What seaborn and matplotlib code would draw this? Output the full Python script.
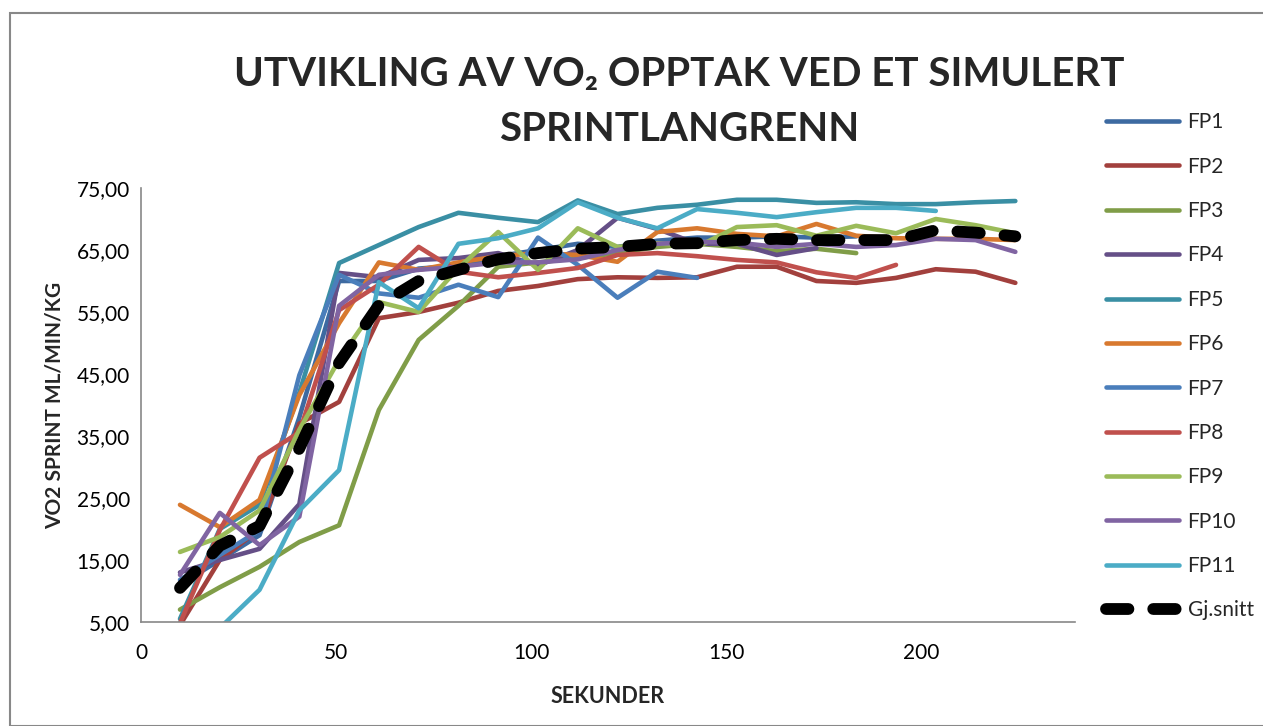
import numpy as np
import pandas as pd
import seaborn as sns
import matplotlib.pyplot as plt
from matplotlib.patches import Rectangle

# tid (sekunder) for hvert målepunkt
seconds = [10.0, 20.2, 30.4, 40.6, 50.8, 61.0, 71.2, 81.4, 91.6, 101.8, 112.0,
           122.2, 132.4, 142.6, 152.8, 163.0, 173.2, 183.4, 193.6, 203.8, 214.0, 224.2]

fp1 = [11.0, 15.0, 19.0, 38.0, 60.0, 60.0, 62.0, 62.5, 64.0, 65.0, 66.0,
       65.5, 66.5, 67.0, 67.0, 67.2, 67.0, 67.2]
fp2 = [4.5, 15.0, 20.0, 37.0, 40.5, 54.0, 55.0, 56.5, 58.4, 59.2, 60.3,
       60.6, 60.5, 60.6, 62.3, 62.3, 60.0, 59.7, 60.5, 61.9, 61.5, 59.7]
fp3 = [7.0, 10.6, 13.9, 17.9, 20.6, 39.2, 50.5, 56.0, 62.3, 63.0, 63.7,
       64.5, 65.5, 66.0, 65.5, 64.8, 65.2, 64.5]
fp4 = [13.0, 15.0, 16.8, 24.0, 61.3, 60.6, 63.4, 63.7, 64.5, 62.5, 65.0,
       70.2, 68.4, 66.0, 66.0, 64.2, 65.3]
fp5 = [5.5, 20.0, 23.9, 42.0, 62.9, 65.8, 68.7, 71.0, 70.2, 69.5, 73.0,
       70.8, 71.8, 72.3, 73.1, 73.1, 72.6, 72.7, 72.4, 72.4, 72.7, 72.9]
fp6 = [23.9, 20.3, 24.7, 41.6, 53.2, 63.0, 61.8, 63.0, 64.0, 64.5, 64.2,
       63.1, 67.9, 68.5, 67.6, 67.2, 69.2, 67.3, 66.9, 66.8, 66.8, 66.6]
fp7 = [11.8, 15.8, 19.8, 44.8, 61.0, 58.0, 57.3, 59.4, 57.4, 67.0, 62.6,
       57.3, 61.5, 60.5]
fp8 = [4.8, 19.8, 31.5, 35.6, 55.3, 59.4, 65.5, 61.5, 60.6, 61.3, 62.1,
       64.2, 64.5, 64.0, 63.4, 63.0, 61.4, 60.5, 62.6]
fp9 = [16.3, 18.7, 23.0, 36.0, 47.3, 56.6, 55.0, 62.1, 67.9, 61.8, 68.5,
       65.5, 66.1, 65.5, 68.7, 69.0, 67.3, 68.9, 67.7, 70.0, 69.0, 67.7]
fp10 = [12.6, 22.6, 17.4, 22.0, 56.0, 61.0, 61.8, 62.3, 63.0, 63.0, 63.5,
        65.0, 66.0, 66.3, 66.2, 65.5, 66.0, 65.5, 65.8, 66.8, 66.6, 64.7]
fp11 = [np.nan, 4.0, 10.2, 23.0, 29.5, 59.8, 55.6, 66.0, 66.9, 68.5, 72.7,
        70.2, 68.5, 71.6, 71.0, 70.3, 71.1, 71.8, 71.8, 71.3]
gj_snitt = [10.5, 17.3, 20.5, 33.0, 46.8, 56.1, 60.0, 61.8, 63.5, 64.5, 65.2,
            65.5, 66.0, 66.1, 66.6, 66.8, 66.6, 66.6, 66.6, 68.2, 67.8, 67.2]

series = {"FP1": fp1, "FP2": fp2, "FP3": fp3, "FP4": fp4, "FP5": fp5,
          "FP6": fp6, "FP7": fp7, "FP8": fp8, "FP9": fp9, "FP10": fp10,
          "FP11": fp11}
colors = ["#3D6AA1", "#A2403D", "#809D48", "#654F87", "#3A8FA4", "#D8792F",
          "#4A7EBB", "#C0504D", "#9BBB59", "#8064A2", "#4BACC6"]

y_ticks = [5, 15, 25, 35, 45, 55, 65, 75]
y_tick_labels = ["5,00", "15,00", "25,00", "35,00", "45,00", "55,00", "65,00", "75,00"]
x_ticks = [0, 50, 100, 150, 200]

rows = []
for name, vals in series.items():
    for t, v in zip(seconds, vals):
        if not np.isnan(v):
            rows.append({"sek": t, "vo2": v, "fp": name})
df = pd.DataFrame(rows)
df_mean = pd.DataFrame({"sek": seconds, "vo2": gj_snitt})

sns.set_style("white")
plt.rcParams['font.family'] = ['Lato', 'DejaVu Sans']

fig = plt.figure(figsize=(12.63, 7.26), dpi=100)
ax = fig.add_axes([141 / 1263, 1 - 622 / 726, (1075 - 141) / 1263, (622 - 188) / 726])

sns.lineplot(data=df, x="sek", y="vo2", hue="fp", palette=colors,
             hue_order=list(series.keys()), estimator=None, sort=False,
             linewidth=3.3, legend=False, ax=ax)
sns.lineplot(data=df_mean, x="sek", y="vo2", color="black", linewidth=8.5,
             estimator=None, legend=False, ax=ax)
lines = ax.get_lines()
for ln in lines:
    ln.set_solid_capstyle("round")
    ln.set_solid_joinstyle("round")
mean_line = lines[-1]
mean_line.set_dashes((1.9, 2.1))
mean_line.set_dash_capstyle("round")

ax.set_xlim(0, 239.5)
ax.set_ylim(5, 75)
ax.set_xticks(x_ticks)
ax.set_yticks(y_ticks)
ax.set_yticklabels(y_tick_labels)
ax.tick_params(axis="both", labelsize=15, length=0, colors="black")
ax.tick_params(axis="x", pad=15)
ax.tick_params(axis="y", pad=8)
for side in ["top", "right"]:
    ax.spines[side].set_visible(False)
for side in ["left", "bottom"]:
    ax.spines[side].set_color("#888888")
    ax.spines[side].set_linewidth(1.2)

ax.set_xlabel("SEKUNDER", fontsize=15.5, fontweight="bold", labelpad=17)
ax.set_ylabel("VO2 SPRINT ML/MIN/KG", fontsize=15, fontweight="bold", labelpad=9)

fig.text(0.538, 0.898, "UTVIKLING AV VO₂ OPPTAK VED ET SIMULERT", ha="center",
         va="center", fontsize=29, fontweight="bold")
fig.text(0.538, 0.821, "SPRINTLANGRENN", ha="center", va="center",
         fontsize=29, fontweight="bold")

handles = lines[:]
labels = list(series.keys()) + ["Gj.snitt"]
leg = fig.legend(handles, labels, loc="upper left", bbox_to_anchor=(1098 / 1263, 1 - 104 / 726),
                 frameon=False, fontsize=15, handlelength=3.5, labelspacing=1.17,
                 handletextpad=0.4, borderaxespad=0)

fig.patches.append(Rectangle((10 / 1263, 0), 1.1, 1 - 13 / 726, transform=fig.transFigure,
                             fill=False, edgecolor="#888888", linewidth=1.5))

fig.savefig("out.png", dpi=100)
